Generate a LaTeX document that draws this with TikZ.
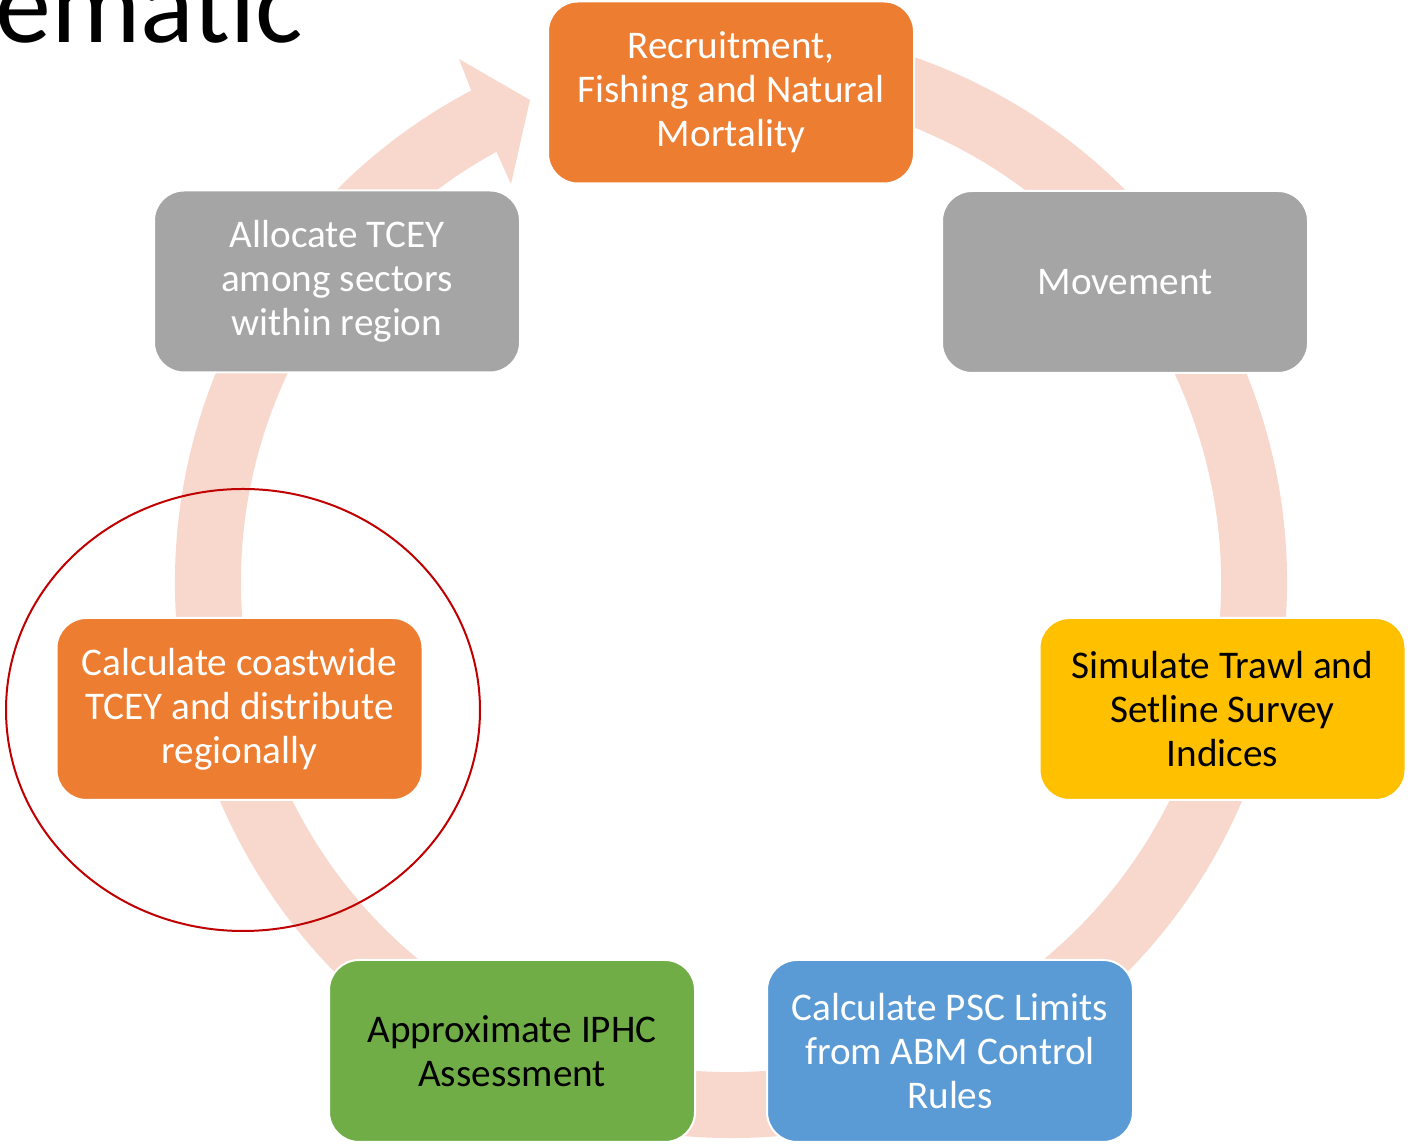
\documentclass[tikz,border=0pt]{standalone}
\usepackage{fontspec}
\setmainfont{Carlito}
\usetikzlibrary{calc}
\definecolor{orangeC}{HTML}{ED7D31}
\definecolor{grayC}{HTML}{A5A5A5}
\definecolor{yellowC}{HTML}{FFC000}
\definecolor{blueC}{HTML}{5B9BD5}
\definecolor{greenC}{HTML}{70AD47}
\definecolor{ringC}{HTML}{F8D8CD}
\definecolor{redC}{HTML}{C00000}
\begin{document}
\begin{tikzpicture}[x=0.5pt,y=0.5pt,
  box/.style={rounded corners=15pt, minimum width=183pt, minimum height=91pt,
    draw=white, line width=1pt, align=center, inner sep=0pt,
    font=\fontsize{19.6}{22}\selectfont, text=white},
  ringfill/.style={fill=ringC},
  mark ellipse/.style={draw=redC, line width=1pt}]
\useasboundingbox (0,0) rectangle (1410,1146);
\clip (0,0) rectangle (1410,1146);
\coordinate (C) at (731,564);
% ring with arrow head
\fill[ringfill] ($(C)+(117.86:556)$) arc[start angle=117.86, end angle=468, radius=556]
  -- ($(C)+(468:490)$) arc[start angle=468, end angle=118.6, radius=490]
  -- (511,962) -- (530,1046) -- (459,1087) -- cycle;
% title (cut off)
\node[anchor=base west, inner sep=0pt, font=\fontsize{56}{66}\selectfont] (title) at (-5,1103) {ematic};
% boxes
\node[box, fill=orangeC] (rec) at (731,1053.5) {Recruitment,\\Fishing and Natural\\Mortality};
\node[box, fill=grayC] (mov) at (1125,864) {Movement};
\node[box, fill=yellowC, text=black] (sim) at (1222.5,437) {Simulate Trawl and\\Setline Survey\\Indices};
\node[box, fill=blueC] (psc) at (950,95) {Calculate PSC Limits\\from ABM Control\\Rules};
\node[box, fill=greenC, text=black] (iphc) at (512,95) {Approximate IPHC\\Assessment};
\node[box, fill=orangeC] (tcey) at (239.5,437) {Calculate coastwide\\TCEY and distribute\\regionally};
\node[box, fill=grayC] (alloc) at (337,864.5) {Allocate TCEY\\among sectors\\within region};
% highlight ellipse
\draw[mark ellipse] (243,436) ellipse [x radius=237, y radius=221];
\end{tikzpicture}
\end{document}
